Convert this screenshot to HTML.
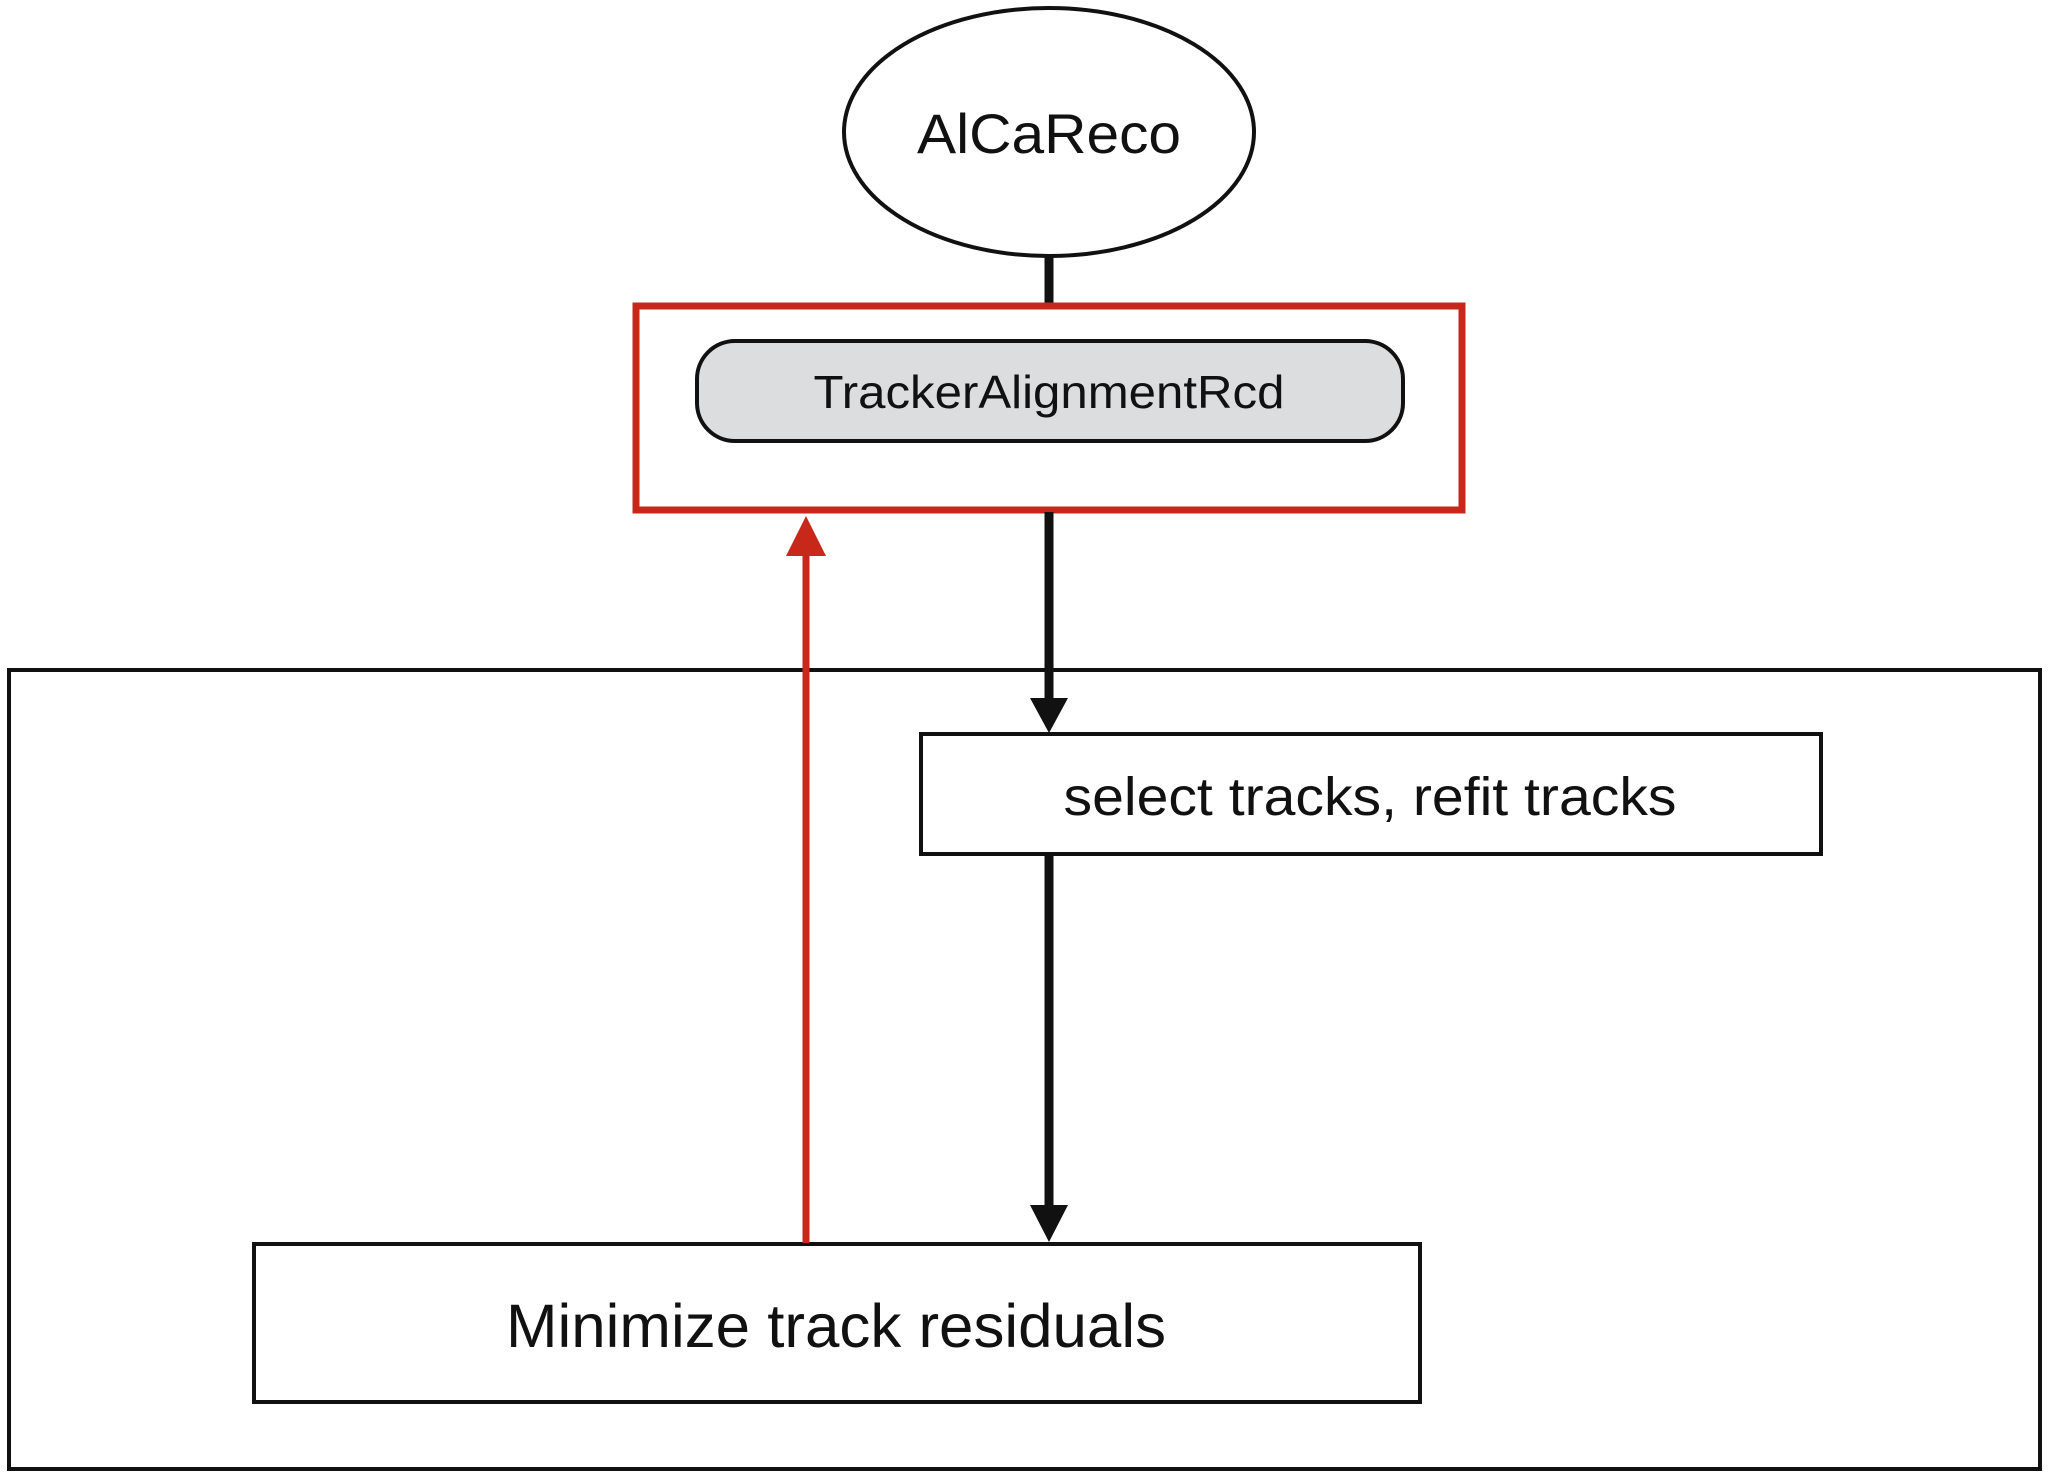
<!DOCTYPE html>
<html><head><meta charset="utf-8"><style>
html,body{margin:0;padding:0;background:#fff;}
svg{display:block;}
text{font-family:"Liberation Sans",sans-serif;fill:#111;}
</style></head><body>
<svg width="2048" height="1477" viewBox="0 0 2048 1477" xmlns="http://www.w3.org/2000/svg">
<rect x="0" y="0" width="2048" height="1477" fill="#fff"/>
<rect x="9" y="670" width="2031" height="799" fill="none" stroke="#111" stroke-width="4"/>
<ellipse cx="1049" cy="132" rx="205" ry="124" fill="#fff" stroke="#111" stroke-width="4"/>
<text x="1049" y="153" font-size="56" text-anchor="middle" textLength="264" lengthAdjust="spacingAndGlyphs">AlCaReco</text>
<line x1="1049" y1="256" x2="1049" y2="304" stroke="#111" stroke-width="9"/>
<rect x="636" y="306" width="826" height="204" fill="none" stroke="#c8281a" stroke-width="7"/>
<rect x="697" y="341" width="706" height="100" rx="38" ry="38" fill="#dcdddf" stroke="#111" stroke-width="4"/>
<text x="1049" y="408" font-size="46" text-anchor="middle" textLength="471" lengthAdjust="spacingAndGlyphs">TrackerAlignmentRcd</text>
<line x1="1049" y1="512" x2="1049" y2="700" stroke="#111" stroke-width="9"/>
<polygon points="1030,698 1068,698 1049,733" fill="#111"/>
<rect x="921" y="734" width="900" height="120" fill="#fff" stroke="#111" stroke-width="4"/>
<text x="1370" y="815" font-size="54" text-anchor="middle" textLength="613" lengthAdjust="spacingAndGlyphs">select tracks, refit tracks</text>
<line x1="1049" y1="856" x2="1049" y2="1210" stroke="#111" stroke-width="9"/>
<polygon points="1030,1205 1068,1205 1049,1242" fill="#111"/>
<rect x="254" y="1244" width="1166" height="158" fill="#fff" stroke="#111" stroke-width="4"/>
<text x="836" y="1347" font-size="61" text-anchor="middle" textLength="660" lengthAdjust="spacingAndGlyphs">Minimize track residuals</text>
<line x1="806" y1="1243" x2="806" y2="550" stroke="#c8281a" stroke-width="7"/>
<polygon points="786,556 826,556 806,516" fill="#c8281a"/>
</svg>
</body></html>
